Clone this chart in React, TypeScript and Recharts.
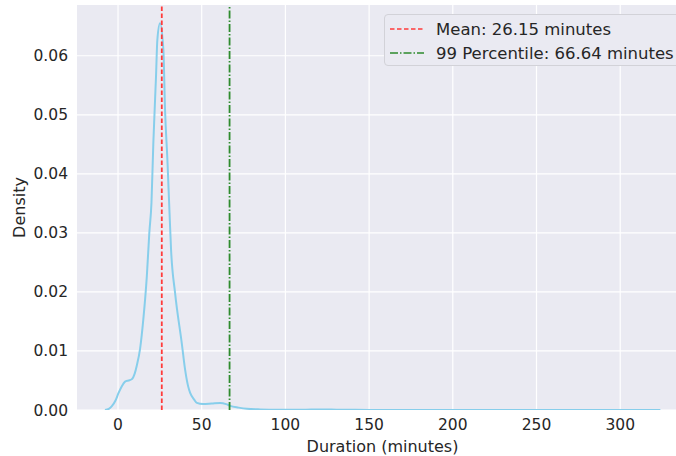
import React from 'react';
import { LineChart, Line, XAxis, YAxis, CartesianGrid, ReferenceLine, Legend } from 'recharts';

// KDE of trip duration
const durations = [-7.8, -5.5, -3.8, -1.5, 0.2, 2.2, 4.2, 6.2, 8.2, 10, 11.2, 13.2, 15.1, 17.2, 18.7, 20.0, 21.1, 22.7, 23.5, 25.1, 27.1, 28.1, 29.5, 30.7, 31.7, 34.1, 38.1, 40.1, 41.9, 43.1, 45.6, 47.1, 50.8, 56, 61, 64.6, 67, 72, 77, 85, 97, 110, 121, 133, 150, 200, 260, 300, 324];
const densities = [0, 0.0002, 0.0006, 0.0016, 0.0028, 0.004, 0.0048, 0.005, 0.0052, 0.0062, 0.0075, 0.0104, 0.0153, 0.0226, 0.03, 0.0352, 0.0452, 0.0565, 0.0627, 0.0655, 0.061, 0.0508, 0.0424, 0.0339, 0.0271, 0.0198, 0.0113, 0.0068, 0.004, 0.0029, 0.0017, 0.0012, 0.001, 0.0011, 0.0012, 0.001, 0.0007, 0.0004, 0.0002, 0.0001, 0.00005, 0.00004, 0.0001, 0.00003, 0.00002, 0.00001, 0.00001, 0.00001, 0];

const xTicks = [0, 50, 100, 150, 200, 250, 300];
const yTicks = [0, 0.01, 0.02, 0.03, 0.04, 0.05, 0.06];

const meanMinutes = 26.15;
const p99Minutes = 66.64;

const data = durations.map((d, i) => ({ x: d, y: densities[i] }));

const FONT = '"DejaVu Sans", sans-serif';
const TEXT = '#262626';

const legendItems = [
  { label: `Mean: ${meanMinutes} minutes`, color: '#ff3b3b', dash: '4.5 2.5' },
  { label: `99 Percentile: ${p99Minutes} minutes`, color: '#2e8b2e', dash: '8 2 1.5 2' },
];

const LegendBox = () => (
  <div
    style={{
      background: '#EAEAF2',
      border: '1px solid #d2d2d8',
      borderRadius: 4,
      width: 300,
      height: 52,
      boxSizing: 'border-box',
      padding: '2px 0 0 4px',
      fontFamily: FONT,
      fontSize: 16.5,
      color: TEXT,
    }}
  >
    {legendItems.map(item => (
      <div key={item.label} style={{ display: 'flex', alignItems: 'center', height: 24 }}>
        <svg width={36} height={10} style={{ marginRight: 11 }}>
          <line x1={1} y1={5} x2={35} y2={5} stroke={item.color} strokeWidth={1.6} strokeDasharray={item.dash} />
        </svg>
        <span style={{ whiteSpace: 'nowrap' }}>{item.label}</span>
      </div>
    ))}
  </div>
);

export default function App() {
  return (
    <div style={{ position: 'absolute', left: 0, top: 0, width: 676, height: 456, overflow: 'hidden', background: '#fff' }}>
      <LineChart width={688} height={456} data={data} margin={{ top: 5, right: 0, bottom: 0, left: 0 }}>
        <CartesianGrid fill="#EAEAF2" stroke="#ffffff" strokeWidth={1.2} horizontalValues={yTicks} verticalValues={xTicks} />
        <XAxis
          dataKey="x"
          type="number"
          domain={[-24.5, 340.5]}
          ticks={xTicks}
          allowDataOverflow
          axisLine={false}
          tickLine={false}
          tickSize={0}
          tickMargin={9}
          height={46}
          tick={{ fill: TEXT, fontSize: 15.5, fontFamily: FONT }}
          label={{ value: 'Duration (minutes)', position: 'insideBottom', offset: 4, fill: TEXT, fontSize: 16, fontFamily: FONT }}
        />
        <YAxis
          type="number"
          domain={[0, 0.0686]}
          ticks={yTicks}
          allowDataOverflow
          axisLine={false}
          tickLine={false}
          tickSize={0}
          tickMargin={9}
          width={77}
          tickFormatter={(v: number) => v.toFixed(2)}
          tick={{ fill: TEXT, fontSize: 15.5, fontFamily: FONT }}
          label={{ value: 'Density', angle: -90, position: 'insideLeft', offset: 19, fill: TEXT, fontSize: 16, fontFamily: FONT, style: { textAnchor: 'middle' } }}
        />
        <Line dataKey="y" type="monotone" stroke="#87CEEB" strokeWidth={2} dot={false} activeDot={false} isAnimationActive={false} />
        <ReferenceLine x={meanMinutes} stroke="#ff3b3b" strokeWidth={1.8} strokeDasharray="4.5 2.5" />
        <ReferenceLine x={p99Minutes} stroke="#2e8b2e" strokeWidth={1.8} strokeDasharray="8 2 1.5 2" />
        <Legend
          layout="horizontal"
          verticalAlign="middle"
          align="center"
          content={() => <LegendBox />}
          wrapperStyle={{ left: 384, top: 14, width: 300, height: 52 }}
        />
      </LineChart>
    </div>
  );
}
